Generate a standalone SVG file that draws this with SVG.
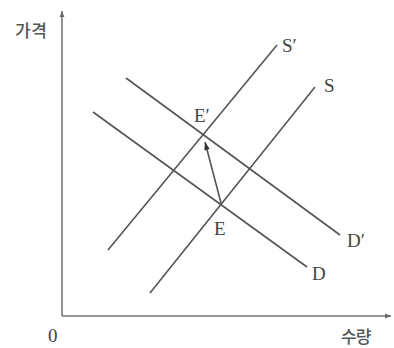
<svg xmlns="http://www.w3.org/2000/svg" width="394" height="348" viewBox="0 0 394 348">
<defs>
<marker id="ah" viewBox="0 0 10 10" refX="10" refY="5" markerWidth="6" markerHeight="6" orient="auto" markerUnits="userSpaceOnUse">
<path d="M0,1 L10,5 L0,9 z" fill="#666"/>
</marker>
<marker id="ah2" viewBox="0 0 10 10" refX="10" refY="5" markerWidth="9" markerHeight="8" orient="auto" markerUnits="userSpaceOnUse">
<path d="M0,1.5 L10,5 L0,8.5 z" fill="#333"/>
</marker>
<style>
.ax{stroke:#777;stroke-width:1.6;fill:none}
.ln{stroke:#555;stroke-width:1.6;fill:none}
.lb{font-family:"Liberation Serif",serif;font-size:19px;fill:#444}
.kr{font-family:"Noto Sans CJK KR",sans-serif;font-size:17px;font-weight:500;fill:#555}
</style>
</defs>
<rect width="394" height="348" fill="#fff"/>
<g id="axes">
<path class="ax" d="M62,316 L62,11" marker-end="url(#ah)"/>
<path class="ax" d="M62,316 L391,316" marker-end="url(#ah)"/>
<text class="kr" x="15" y="37" font-size="19px" letter-spacing="0.5">가격</text>
<text class="kr" x="341" y="343" letter-spacing="-1">수량</text>
<text class="lb" x="48" y="342" font-size="16px">0</text>
</g>
<g id="connectors">
<line id="S" class="ln" x1="150" y1="293" x2="315" y2="87"/>
<line id="Sp" class="ln" x1="108" y1="250" x2="277" y2="45"/>
<line id="D" class="ln" x1="93" y1="112" x2="307" y2="267"/>
<line id="Dp" class="ln" x1="126" y1="78" x2="340" y2="235"/>
<path class="ln" d="M221,203 L205,142" stroke="#333" marker-end="url(#ah2)"/>
</g>
<g id="labels">
<text class="lb" x="282" y="52">S′</text>
<text class="lb" x="324" y="92">S</text>
<text class="lb" x="194" y="122">E′</text>
<text class="lb" x="214" y="235">E</text>
<text class="lb" x="347" y="247">D′</text>
<text class="lb" x="312" y="280">D</text>
</g>
</svg>
